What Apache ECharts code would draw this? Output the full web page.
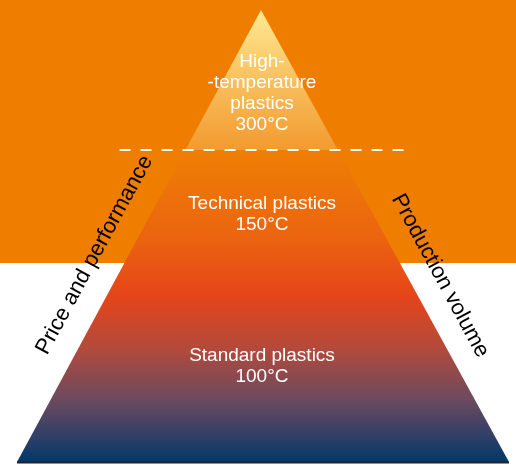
<!DOCTYPE html>
<html>
<head>
<meta charset="utf-8">
<script src="https://cdn.jsdelivr.net/npm/echarts@6/dist/echarts.min.js"></script>
<style>
html,body{margin:0;padding:0;}
#chart{width:516px;height:470px;}
</style>
</head>
<body>
<div id="chart"></div>
<script>
// ---- data ----
const tierNames = ['Standard plastics', 'Technical plastics', 'High-\n-temperature\nplastics'];
const tierTemps = ['100°C', '150°C', '300°C'];
const tierLabelLevels = [21.2, 54.9, 81.5];   // % of pyramid height (label centres)
const separatorLevel = 69;                     // dashed separator, % of height
const sideTitles = ['Price and performance', 'Production volume'];
const pyramidTop = 100;
const apexX = -0.008;

// ---- layout / style ----
const ORANGE = '#EF7D00';
const FONT = '"Liberation Sans", Arial, Helvetica, sans-serif';

const chart = echarts.init(document.getElementById('chart'), null, {renderer: 'canvas'});

function edgeX(side, level) {
  // side -1 left, 1 right; linear between base corner and apex
  const t = level / pyramidTop;
  return side * (1 - t) + apexX * t;
}

function renderItem(params, api) {
  const c = (x, y) => api.coord([x, y]);
  const A = c(apexX, pyramidTop);
  const L = c(edgeX(-1, separatorLevel), separatorLevel);
  const R = c(edgeX(1, separatorLevel), separatorLevel);
  const BL = c(-1, 0);
  const BR = c(1, 0);
  const children = [];
  children.push({
    type: 'polygon',
    shape: {points: [L, R, BR, BL]},
    style: {
      fill: new echarts.graphic.LinearGradient(0, 0, 0, 1, [
        {offset: 0, color: '#EF7F04'},
        {offset: 0.28, color: '#EB6410'},
        {offset: 0.47, color: '#E5441A'},
        {offset: 0.64, color: '#B14A3D'},
        {offset: 0.80, color: '#6C4A5F'},
        {offset: 0.92, color: '#2E3F67'},
        {offset: 1, color: '#013867'}
      ])
    }
  });
  children.push({
    type: 'polygon',
    shape: {points: [A, R, L]},
    style: {
      fill: new echarts.graphic.LinearGradient(0, 0, 0, 1, [
        {offset: 0, color: '#FEEA92'},
        {offset: 0.45, color: '#F9C464'},
        {offset: 1, color: '#F39A2E'}
      ])
    }
  });
  // base line
  children.push({
    type: 'line',
    shape: {x1: BL[0], y1: BL[1] + 0.5, x2: BR[0], y2: BR[1] + 0.5},
    style: {stroke: '#1E2233', lineWidth: 2}
  });
  // dashed separator
  const D1 = c(-0.583, separatorLevel);
  const D2 = c(0.583, separatorLevel);
  children.push({
    type: 'line',
    shape: {x1: D1[0], y1: D1[1], x2: D2[0], y2: D2[1]},
    style: {stroke: '#FFFFFF', lineWidth: 2, lineDash: [11, 10]}
  });
  // tier labels
  tierNames.forEach((name, i) => {
    const p = c(0, tierLabelLevels[i]);
    children.push({
      type: 'text',
      x: p[0] - 1, y: p[1],
      style: {
        text: name + '\n' + tierTemps[i],
        fill: '#FFFFFF',
        font: '19px ' + FONT,
        lineHeight: 21,
        align: 'center',
        verticalAlign: 'middle'
      }
    });
  });
  // side titles
  const ang = 61.6 * Math.PI / 180;
  const pl = c(-0.685, 45.8);
  const pr = c(0.72, 41.2);
  children.push({
    type: 'text', x: pl[0], y: pl[1], rotation: ang,
    style: {text: sideTitles[0], fill: '#000000', font: '22px ' + FONT, align: 'center', verticalAlign: 'middle'}
  });
  children.push({
    type: 'text', x: pr[0], y: pr[1], rotation: -ang,
    style: {text: sideTitles[1], fill: '#000000', font: '22px ' + FONT, align: 'center', verticalAlign: 'middle'}
  });
  return {type: 'group', children: children};
}

chart.setOption({
  animation: false,
  backgroundColor: {
    type: 'linear', x: 0, y: 0, x2: 0, y2: 1,
    colorStops: [
      {offset: 0, color: ORANGE},
      {offset: 263 / 470, color: ORANGE},
      {offset: 263 / 470, color: '#FFFFFF'},
      {offset: 1, color: '#FFFFFF'}
    ]
  },
  grid: {left: 17, right: 7, top: 10, bottom: 8},
  xAxis: {type: 'value', min: -1, max: 1, show: false},
  yAxis: {type: 'value', min: 0, max: pyramidTop, show: false},
  series: [{
    type: 'custom',
    renderItem: renderItem,
    data: [[0, 0]],
    clip: false
  }]
});
</script>
</body>
</html>
